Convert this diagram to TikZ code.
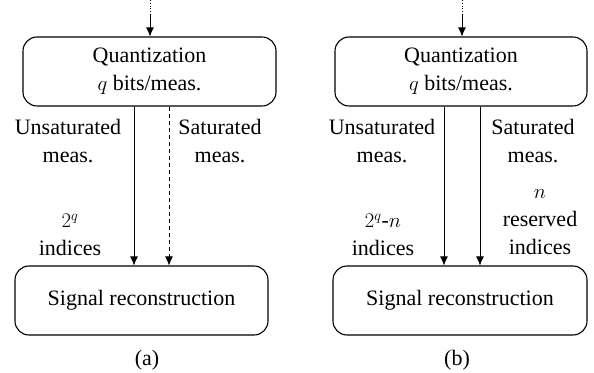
\documentclass[tikz,border=0pt]{standalone}
\usepackage{fontspec}
\setmainfont{LiberationSerif-Regular.ttf}[BoldFont=LiberationSerif-Bold.ttf, ItalicFont=LiberationSerif-Italic.ttf]
\usetikzlibrary{arrows.meta}

\begin{document}
\begin{tikzpicture}[
    x=1pt, y=1pt,
    every node/.style={font=\fontsize{22}{28}\selectfont},
    block/.style={draw, line width=1.1pt, rounded corners=14pt, minimum height=69pt, align=center, inner sep=0pt},
    flow/.style={line width=0.8pt, -{Latex[length=9pt,width=8pt]}},
    feed/.style={line width=0.8pt, dotted},
    branch label/.style={align=center, inner sep=0pt}
]
    \useasboundingbox (0,0) rectangle (594,372);
    % Panel (a)
    \node[block, minimum width=253pt] (quantA) at (149.5,300.5) {Quantization\\$q$ bits/meas.};
    \node[block, minimum width=253pt] (reconA) at (141.5,71.5) {Signal reconstruction};
    \coordinate (inA) at (150,372);
    \coordinate (midA) at (150,358);
    \draw[feed] (inA) -- (midA);
    \draw[flow] (midA) -- (quantA.north -| midA);
    \draw[flow] (quantA.south -| 134,0) -- (reconA.north -| 134,0);
    \draw[flow, dash pattern=on 4pt off 3pt] (quantA.south -| 169,0) -- (reconA.north -| 169,0);
    \node[branch label] (unsatA) at (68,231) {Unsaturated\\meas.};
    \node[branch label] (satA) at (220,231) {Saturated\\meas.};
    \node[branch label] (idxA) at (70,137) {$2^q$\\indices};
    \node (capA) at (147,12) {(a)};
    % Panel (b)
    \node[block, minimum width=252pt] (quantB) at (461,300.5) {Quantization\\$q$ bits/meas.};
    \node[block, minimum width=254pt] (reconB) at (460,71.5) {Signal reconstruction};
    \coordinate (inB) at (462,372);
    \coordinate (midB) at (462,358);
    \draw[feed] (inB) -- (midB);
    \draw[flow] (midB) -- (quantB.north -| midB);
    \draw[flow] (quantB.south -| 444,0) -- (reconB.north -| 444,0);
    \draw[flow] (quantB.south -| 480,0) -- (reconB.north -| 480,0);
    \node[branch label] (unsatB) at (382,231) {Unsaturated\\meas.};
    \node[branch label] (satB) at (533,231) {Saturated\\meas.};
    \node[branch label] (idxB) at (383,137) {$2^q$-$n$\\indices};
    \node[branch label] (resB) at (540,150) {$n$\\reserved\\indices};
    \node (capB) at (457,12) {(b)};
\end{tikzpicture}
\end{document}
